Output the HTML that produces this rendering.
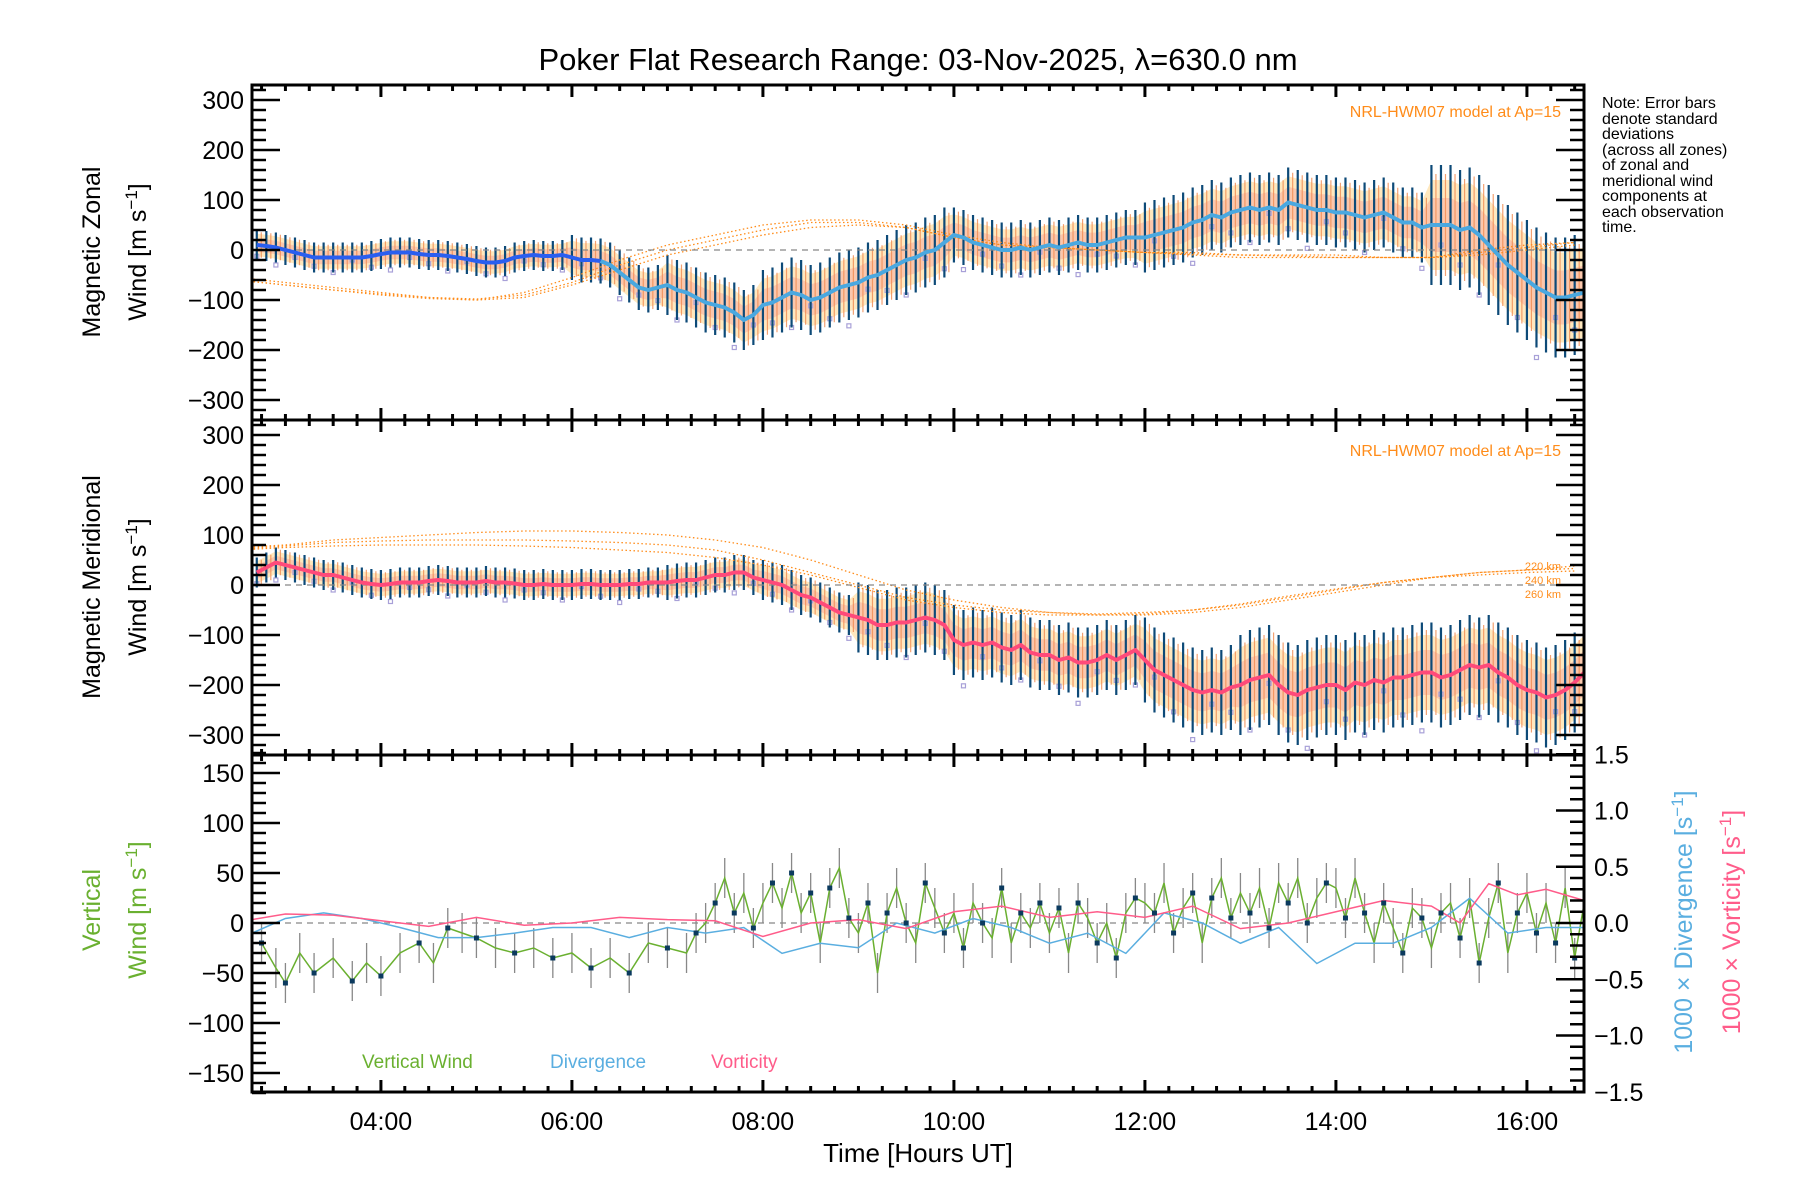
<!DOCTYPE html>
<html><head><meta charset="utf-8"><style>
body{margin:0;background:#fff}
svg{display:block}
text{font-family:"Liberation Sans",sans-serif}
</style></head><body>
<svg id="chart" width="1800" height="1200" viewBox="0 0 1800 1200" xmlns="http://www.w3.org/2000/svg">
<text x="918" y="70" font-size="31" text-anchor="middle">Poker Flat Research Range: 03-Nov-2025, λ=630.0 nm</text>
<g font-size="16">
<text x="1602" y="108">Note: Error bars</text>
<text x="1602" y="124">denote standard</text>
<text x="1602" y="139">deviations</text>
<text x="1602" y="155">(across all zones)</text>
<text x="1602" y="170">of zonal and</text>
<text x="1602" y="186">meridional wind</text>
<text x="1602" y="201">components at</text>
<text x="1602" y="217">each observation</text>
<text x="1602" y="232">time.</text>
</g>
<g id="plots"></g>
</svg>
<script>
// ---- data ----
const zonalStart = 2.7;
const zonalMean = [10,8,5,
0,-5,-10,-15,-15,-15,-15,-15,-15,-12,
-8,-5,-5,-5,-8,-10,-10,-12,-15,-18,
-22,-25,-25,-22,-15,-12,-10,-12,-12,-10,
-15,-20,-20,-22,-30,-45,-60,-75,-80,-75,
-70,-80,-85,-95,-105,-110,-115,-125,-140,-130,
-110,-105,-95,-85,-90,-100,-95,-85,-75,-70,
-65,-55,-50,-40,-30,-20,-15,-5,0,15,
30,25,15,10,5,0,0,5,0,5,
10,5,10,15,10,10,15,20,25,25,
25,30,35,40,45,55,60,70,65,75,
80,85,80,85,80,95,90,85,80,80,
75,75,70,65,70,75,65,55,55,45,
50,50,50,40,45,30,10,-10,-30,-45,
-60,-75,-85,-95,-95,-90,-85];
const zonalErrByHour = [30,30,30,30,45,60,70,70,55,55,70,70,70,120,120];
const meridMean = [25,35,45,
40,35,30,25,20,20,15,10,5,2,
0,2,5,5,5,8,10,8,5,5,
5,8,5,5,3,0,0,2,0,0,
0,2,2,0,0,0,2,2,5,5,
5,8,10,10,15,20,20,25,25,15,
10,5,0,-10,-20,-25,-35,-45,-55,-60,
-65,-70,-80,-80,-75,-75,-70,-65,-70,-80,
-110,-120,-115,-120,-115,-125,-130,-120,-135,-140,
-140,-150,-145,-155,-155,-150,-140,-150,-140,-130,
-150,-170,-180,-190,-200,-210,-215,-210,-215,-205,
-200,-190,-185,-180,-200,-215,-220,-210,-205,-200,
-200,-210,-195,-200,-190,-195,-185,-185,-180,-175,
-175,-185,-180,-170,-160,-165,-160,-175,-185,-200,
-210,-215,-225,-220,-210,-195,-175];
const meridErrByHour = [30,30,30,30,30,35,40,70,70,70,85,100,100,100,100];
const modelTimes = [2.5,3,3.5,4,4.5,5,5.5,6,6.5,7,7.5,8,8.5,9,9.5,10,10.5,11,11.5,12,12.5,13,13.5,14,14.5,15,15.5,16,16.5];
const zonal220 = [-55,-65,-75,-85,-95,-100,-95,-70,-40,-10,10,30,45,50,45,25,10,5,0,-5,-5,-10,-10,-10,-15,-15,-10,0,10];
const zonal240 = [-60,-70,-80,-88,-95,-98,-90,-65,-30,0,20,40,55,55,45,25,10,5,0,-5,-8,-10,-12,-15,-15,-15,-5,5,15];
const zonal260 = [-60,-70,-80,-90,-97,-100,-85,-55,-20,10,30,50,60,60,50,30,15,5,0,-5,-10,-15,-15,-15,-15,-15,0,10,15];
const merid220 = [75,80,90,95,100,105,108,108,105,100,90,75,50,20,-10,-30,-45,-55,-60,-60,-55,-45,-30,-15,0,15,25,30,38];
const merid240 = [72,78,85,88,90,90,90,88,85,80,70,50,25,0,-25,-40,-50,-55,-58,-55,-50,-40,-25,-10,5,15,25,30,33];
const merid260 = [70,75,78,80,80,80,78,75,70,65,55,40,20,-5,-30,-45,-55,-60,-60,-58,-50,-38,-22,-8,5,15,20,25,28];
const scatterOffsets = [-45,30,-70,40,-20,55,-35,15,-60,25,-10,45];
const vertTimes = [2.75,2.9,3.0,3.15,3.3,3.5,3.7,3.85,4.0,4.2,4.4,4.55,4.7,4.85,5.0,5.2,5.4,5.6,5.8,6.0,6.2,6.4,6.6,6.8,7.0,7.2,
7.3,7.4,7.5,7.6,7.7,7.8,7.9,
8.0,8.1,8.2,8.3,8.4,8.5,8.6,8.7,8.8,8.9,
9.0,9.1,9.2,9.3,9.4,9.5,9.6,9.7,9.8,9.9,
10.0,10.1,10.2,10.3,10.4,10.5,10.6,10.7,10.8,10.9,
11.0,11.1,11.2,11.3,11.4,11.5,11.6,11.7,11.8,11.9,
12.0,12.1,12.2,12.3,12.4,12.5,12.6,12.7,12.8,12.9,
13.0,13.1,13.2,13.3,13.4,13.5,13.6,13.7,13.8,13.9,
14.0,14.1,14.2,14.3,14.4,14.5,14.6,14.7,14.8,14.9,
15.0,15.1,15.2,15.3,15.4,15.5,15.6,15.7,15.8,15.9,
16.0,16.1,16.2,16.3,16.4,16.5,16.6];
const vertWind = [-20,-45,-60,-30,-50,-35,-58,-40,-53,-30,-20,-40,-5,-10,-15,-25,-30,-25,-35,-30,-45,-35,-50,-20,-25,-30,
-10,0,20,45,10,30,-5,
20,40,15,50,10,30,-20,35,55,5,
-10,20,-50,10,35,0,-20,40,15,-10,
10,-25,20,0,-15,35,-20,10,-5,20,
-10,15,-30,20,5,-20,0,-35,10,25,
20,10,40,-10,15,30,-20,25,45,5,
30,10,35,-5,40,20,45,0,25,40,
35,5,45,10,-20,20,-5,-30,15,5,
-25,10,20,-15,25,-40,5,40,-30,10,
30,-10,20,-20,35,-35,20];
const divTimes = [2.65,3,3.4,3.8,4.2,4.6,5,5.4,5.8,6.2,6.6,7,7.4,7.8,8.2,8.6,9,9.4,9.8,10.2,10.6,11,11.4,11.8,12.2,12.6,13,13.4,13.8,14.2,14.6,15,15.4,15.8,16.2,16.6];
const divergence = [-0.09,0.04,0.09,0.04,-0.04,-0.13,-0.13,-0.09,-0.04,-0.04,-0.13,-0.04,-0.09,-0.04,-0.27,-0.18,-0.22,0,-0.09,0.04,-0.04,-0.18,-0.09,-0.27,0.09,0,-0.18,-0.04,-0.36,-0.18,-0.18,-0.04,0.22,-0.09,-0.04,-0.04];
const vortTimes = [2.65,3,3.5,4,4.5,5,5.5,6,6.5,7,7.5,8,8.5,9,9.5,10,10.5,11,11.5,12,12.5,13,13.5,14,14.5,15,15.3,15.6,15.9,16.2,16.6];
const vorticity = [0.03,0.08,0.07,0.02,-0.03,0.05,-0.02,0,0.05,0.03,0.02,-0.12,0,0.03,-0.05,0.1,0.15,0.05,0.1,0.05,0.15,-0.05,0,0.1,0.2,0.15,0,0.35,0.25,0.3,0.2];
const hourTicks = ['04:00','06:00','08:00','10:00','12:00','14:00','16:00'];

// ---- axes ----
const NS='http://www.w3.org/2000/svg';
const X0=252,X1=1584,T0=2.65,PXH=95.5;
function xs(t){return X0+(t-T0)*PXH;}
function y1(v){return 250-v*0.5;}
function y2(v){return 585-v*0.5;}
function y3(v){return 923-v;}
function y3r(v){return 923-v*112.5;}
const root=document.getElementById('plots');
function mk(tag,attrs,parent){const e=document.createElementNS(NS,tag);for(const k in attrs)e.setAttribute(k,attrs[k]);(parent||root).appendChild(e);return e;}
function clipFor(id,top,bot){const c=mk('clipPath',{id:id});mk('rect',{x:X0,y:top,width:X1-X0,height:bot-top},c);}
clipFor('c1',85,420);clipFor('c2',420,755);clipFor('c3',755,1092);
function zTime(i){return zonalStart+i*0.1;}
function errFor(arr,t){return arr[Math.min(arr.length-1,Math.max(0,Math.floor(t)-2))];}

function windPanel(name,mean,errs,yf,clip,m1,m2,m3,meanColorEarly,meanColorLate){
  const g=mk('g',{'clip-path':'url(#'+clip+')'});
  
  
  let up=[],dn=[];
  mean.forEach((v,i)=>{const t=zTime(i),e=errFor(errs,t);up.push(xs(t)+','+yf(v+e*0.75));dn.unshift(xs(t)+','+yf(v-e*0.75));});
  const band=mk('polygon',{points:up.concat(dn).join(' '),fill:'#ffe0a8',opacity:0.75},g);
  
  
  up=[];dn=[];
  mean.forEach((v,i)=>{const t=zTime(i),e=errFor(errs,t);up.push(xs(t)+','+yf(v+e*0.45));dn.unshift(xs(t)+','+yf(v-e*0.45));});
  const band2=mk('polygon',{points:up.concat(dn).join(' '),fill:'#f8b0a0',opacity:0.6},g);
  
  
  mean.forEach((v,i)=>{if(i%2)return;const t=zTime(i),e=errFor(errs,t);const o=scatterOffsets[i%scatterOffsets.length]*e/60;
    const s=mk('rect',{x:xs(t)-2,y:yf(v+o)-2,width:4,height:4,fill:'none',stroke:'#a8a0d8','stroke-width':1.2},g);
    
    });
  mean.forEach((v,i)=>{const t=zTime(i),e=errFor(errs,t);
    const b=mk('line',{x1:xs(t),x2:xs(t),y1:yf(v+e),y2:yf(v-e),stroke:'#0d4a78','stroke-width':2.2},g);
    
    
    const b2=mk('line',{x1:xs(t)+4.5,x2:xs(t)+4.5,y1:yf(v+e*0.85),y2:yf(v-e*0.85),stroke:'#f08a50','stroke-width':1.2,opacity:0.8},g);
    
    });
  [m1,m2,m3].forEach((m,k)=>{const pts=m.map((v,i)=>xs(modelTimes[i])+','+yf(v)).join(' ');
    const l=mk('polyline',{points:pts,fill:'none',stroke:'#ff8c1a','stroke-width':1.3,'stroke-dasharray':'1.5 2.5'},g);
    
    });
  const z=mk('line',{x1:X0,x2:X1,y1:yf(0),y2:yf(0),stroke:'#888','stroke-width':1.2,'stroke-dasharray':'6 5'},g);
  
  
  const split=36;
  const p1=mean.slice(0,split+1).map((v,i)=>xs(zTime(i))+','+yf(v)).join(' ');
  const p2=mean.slice(split).map((v,i)=>xs(zTime(i+split))+','+yf(v)).join(' ');
  const l1=mk('polyline',{points:p1,fill:'none',stroke:meanColorEarly,'stroke-width':4,'stroke-linejoin':'round'},g);
  
  
  const l2=mk('polyline',{points:p2,fill:'none',stroke:meanColorLate,'stroke-width':4,'stroke-linejoin':'round'},g);
  
  
}
windPanel('zonal',zonalMean,zonalErrByHour,y1,'c1',zonal220,zonal240,zonal260,'#2a5ef0','#4aa8e0');
windPanel('meridional',meridMean,meridErrByHour,y2,'c2',merid220,merid240,merid260,'#ff4a7a','#ff4a7a');

const g3=mk('g',{'clip-path':'url(#c3)'});


const z3=mk('line',{x1:X0,x2:X1,y1:y3(0),y2:y3(0),stroke:'#888','stroke-width':1.2,'stroke-dasharray':'6 5'},g3);


vertTimes.forEach((t,i)=>{const v=vertWind[i];
  const b=mk('line',{x1:xs(t),x2:xs(t),y1:y3(v+20),y2:y3(v-20),stroke:'#888','stroke-width':1.3},g3);
  
  });
const vl=mk('polyline',{points:vertTimes.map((t,i)=>xs(t)+','+y3(vertWind[i])).join(' '),fill:'none',stroke:'#6ab030','stroke-width':1.5},g3);


const dl=mk('polyline',{points:divTimes.map((t,i)=>xs(t)+','+y3r(divergence[i])).join(' '),fill:'none',stroke:'#5aaee0','stroke-width':1.5},g3);


const rl=mk('polyline',{points:vortTimes.map((t,i)=>xs(t)+','+y3r(vorticity[i])).join(' '),fill:'none',stroke:'#ff5c8a','stroke-width':1.5},g3);


vertTimes.forEach((t,i)=>{if(i%2)return;
  const p=mk('rect',{x:xs(t)-2.5,y:y3(vertWind[i])-2.5,width:5,height:5,fill:'#0b3a5e'},g3);
  
  });

function yAxis(name,top,bot,yf,vals,major,minor,labelFn,side){
  const g=mk('g',{});
  
  
  const vmin=vals[0],vmax=vals[1];
  for(let v=Math.ceil(vmin/minor-1e-6)*minor;v<=vmax+1e-9;v+=minor){
    const yy=yf(v);if(yy<top-2||yy>bot+2)continue;
    const isMaj=Math.abs(v/major-Math.round(v/major))<1e-6;
    const L=isMaj?28:14;
    if(side!=='right'){mk('line',{x1:X0,x2:X0+L,y1:yy,y2:yy,stroke:'#000','stroke-width':2.5},g);}
    if(side!=='left'){mk('line',{x1:X1,x2:X1-L,y1:yy,y2:yy,stroke:'#000','stroke-width':2.5},g);}
    if(isMaj&&labelFn){const tx=mk('text',{x:side==='right'?X1+10:X0-8,y:yy+9,'font-size':25,'text-anchor':side==='right'?'start':'end'},g);tx.textContent=labelFn(v);}
  }
}
function fmt(v){return v<0?'−'+(-v):''+v;}
function fmtR(v){const s=Math.abs(v).toFixed(1);return v<-1e-9?'−'+s:s;}
yAxis('zonal-y-axis',85,420,y1,[-340,340],100,20,fmt,'both');
yAxis('meridional-y-axis',420,755,y2,[-340,340],100,20,fmt,'both');
yAxis('vertical-y-axis',755,1092,y3,[-170,170],50,10,fmt,'left');
yAxis('vorticity-y-axis',755,1092,y3r,[-1.5,1.5],0.5,0.1,fmtR,'right');
function xTicks(top,bot,name){
  const g=mk('g',{});
  
  
  for(let t=2.75;t<=16.6;t+=0.25){const xx=xs(t);const maj=Math.abs(t-Math.round(t))<1e-6&&Math.round(t)%2===0;const L=maj?12:6;
    mk('line',{x1:xx,x2:xx,y1:bot,y2:bot-L,stroke:'#000','stroke-width':3},g);
    mk('line',{x1:xx,x2:xx,y1:top,y2:top+L,stroke:'#000','stroke-width':3},g);}
}
xTicks(85,420,'zonal-x-ticks');xTicks(420,755,'meridional-x-ticks');xTicks(755,1092,'time-x-axis');
[[85,420,'zonal-panel-frame'],[420,755,'meridional-panel-frame'],[755,1092,'vertical-panel-frame']].forEach(f=>{
  const r=mk('rect',{x:X0,y:f[0],width:X1-X0,height:f[1]-f[0],fill:'none',stroke:'#000','stroke-width':3});
  
  });
hourTicks.forEach((lab,i)=>{const t=mk('text',{x:xs(4+2*i),y:1130,'font-size':25,'text-anchor':'middle'});t.textContent=lab;
  
  });
</script>
<script>
const s=document.getElementById('chart');
s.insertAdjacentHTML('beforeend',`
<text x="918" y="1162" font-size="26" text-anchor="middle">Time [Hours UT]</text>
<g font-size="25"><text transform="translate(100,252) rotate(-90)" text-anchor="middle">Magnetic Zonal</text><text transform="translate(146,252) rotate(-90)" text-anchor="middle">Wind [m s<tspan dy="-9" font-size="17">−1</tspan><tspan dy="9">]</tspan></text></g>
<g font-size="25"><text transform="translate(100,587) rotate(-90)" text-anchor="middle">Magnetic Meridional</text><text transform="translate(146,587) rotate(-90)" text-anchor="middle">Wind [m s<tspan dy="-9" font-size="17">−1</tspan><tspan dy="9">]</tspan></text></g>
<g font-size="25" fill="#6ab030"><text transform="translate(100,910) rotate(-90)" text-anchor="middle">Vertical</text><text transform="translate(146,910) rotate(-90)" text-anchor="middle">Wind [m s<tspan dy="-9" font-size="17">−1</tspan><tspan dy="9">]</tspan></text></g>
<text transform="translate(1692,922) rotate(-90)" font-size="25" fill="#5aaee0" text-anchor="middle">1000 × Divergence [s<tspan dy="-9" font-size="17">−1</tspan><tspan dy="9">]</tspan></text>
<text transform="translate(1740,922) rotate(-90)" font-size="25" fill="#ff5c8a" text-anchor="middle">1000 × Vorticity [s<tspan dy="-9" font-size="17">−1</tspan><tspan dy="9">]</tspan></text>
<text x="1561" y="117" font-size="16" fill="#ff8c1a" text-anchor="end">NRL-HWM07 model at Ap=15</text>
<text x="1561" y="456" font-size="16" fill="#ff8c1a" text-anchor="end">NRL-HWM07 model at Ap=15</text>
<g font-size="11" fill="#ff8c1a" text-anchor="end"><text x="1561" y="570">220 km</text><text x="1561" y="584">240 km</text><text x="1561" y="598">260 km</text></g>
<text x="362" y="1068" font-size="19" fill="#6ab030">Vertical Wind</text>
<text x="550" y="1068" font-size="19" fill="#5aaee0">Divergence</text>
<text x="711" y="1068" font-size="19" fill="#ff5c8a">Vorticity</text>
`);
</script>
</body></html>
